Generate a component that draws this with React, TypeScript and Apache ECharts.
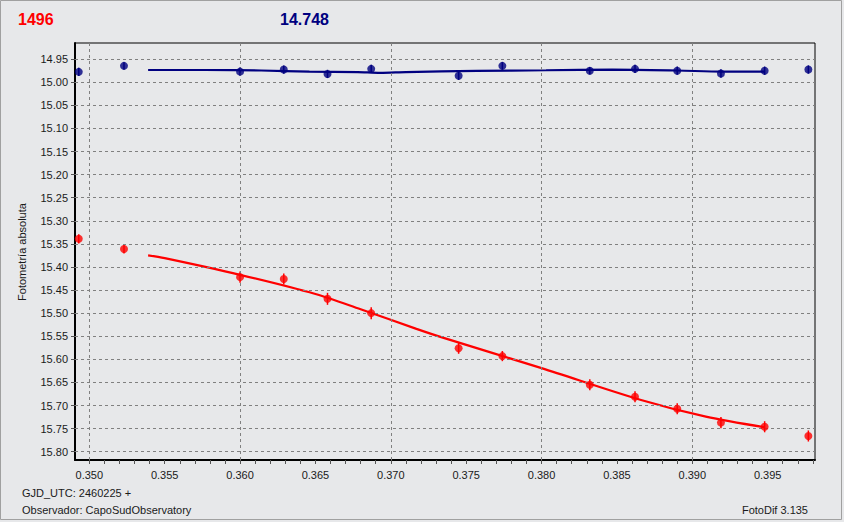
import React, { useEffect, useRef } from "react";
import * as echarts from "echarts";

// ---- data ----
const titleLeft = "1496";
const titleMid = "14.748";
const yAxisName = "Fotometría absoluta";
const footLine1 = "GJD_UTC: 2460225 +";
const footLine2 = "Observador: CapoSudObservatory";
const footRight = "FotoDif 3.135";

const xTicks = [0.35, 0.355, 0.36, 0.365, 0.37, 0.375, 0.38, 0.385, 0.39, 0.395];
const xMinorTicks = [
  0.35, 0.351, 0.352, 0.353, 0.354, 0.355, 0.356, 0.357, 0.358, 0.359,
  0.36, 0.361, 0.362, 0.363, 0.364, 0.365, 0.366, 0.367, 0.368, 0.369,
  0.37, 0.371, 0.372, 0.373, 0.374, 0.375, 0.376, 0.377, 0.378, 0.379,
  0.38, 0.381, 0.382, 0.383, 0.384, 0.385, 0.386, 0.387, 0.388, 0.389,
  0.39, 0.391, 0.392, 0.393, 0.394, 0.395, 0.396, 0.397, 0.398,
];
const yTicks = [
  14.95, 15.0, 15.05, 15.1, 15.15, 15.2, 15.25, 15.3, 15.35, 15.4,
  15.45, 15.5, 15.55, 15.6, 15.65, 15.7, 15.75, 15.8,
];

const pointX = [
  0.3493, 0.3523, 0.36, 0.3629, 0.3658, 0.3687, 0.3745, 0.3774, 0.3832,
  0.3862, 0.389, 0.3919, 0.3948, 0.3977,
];
const blueY = [
  14.9775, 14.9645, 14.977, 14.9725, 14.982, 14.971, 14.986, 14.9645,
  14.975, 14.971, 14.975, 14.981, 14.975, 14.9725,
];
const blueErr = [
  0.009, 0.008, 0.009, 0.009, 0.009, 0.009, 0.009, 0.008, 0.008, 0.009,
  0.009, 0.009, 0.009, 0.009,
];
const redY = [
  15.339, 15.361, 15.422, 15.426, 15.469, 15.5, 15.576, 15.593, 15.655,
  15.681, 15.707, 15.737, 15.746, 15.766,
];
const redErr = [
  0.01, 0.01, 0.012, 0.012, 0.013, 0.013, 0.012, 0.011, 0.012, 0.012,
  0.012, 0.012, 0.012, 0.012,
];

const blueFitX = [0.3539, 0.3577, 0.3614, 0.3646, 0.3678, 0.3693, 0.371, 0.3757, 0.3803, 0.3847, 0.389, 0.392, 0.3948];
const blueFitY = [14.9735, 14.9735, 14.9745, 14.977, 14.978, 14.9797, 14.978, 14.9754, 14.974, 14.9725, 14.9745, 14.977, 14.977];
const redFitX = [0.3539, 0.355, 0.36, 0.365, 0.368, 0.3717, 0.37345, 0.38, 0.3866, 0.3909, 0.3948];
const redFitY = [15.375, 15.381, 15.417, 15.4585, 15.4916, 15.534, 15.553, 15.619, 15.688, 15.724, 15.747];

const X_MIN = 0.34905;
const X_MAX = 0.39814;
const Y_MIN = 14.915;
const Y_MAX = 15.818;

const BLUE = "#000080";
const RED = "#ff0000";
const FONT = "'Liberation Sans', Arial, sans-serif";

function errBars(color: string) {
  return (params: any, api: any) => {
    const x = api.value(0);
    const y = api.value(1);
    const e = api.value(2);
    const p1 = api.coord([x, y - e]);
    const p2 = api.coord([x, y + e]);
    return {
      type: "line",
      shape: { x1: p1[0], y1: p1[1], x2: p2[0], y2: p2[1] },
      style: { stroke: color, lineWidth: 1.5 },
    };
  };
}

export default function App() {
  const ref = useRef<HTMLDivElement>(null);
  useEffect(() => {
    document.body.style.margin = "0";
    const chart = echarts.init(ref.current!, null, { renderer: "svg" });
    const zip = (xs: number[], ys: number[]) => xs.map((x, i) => [x, ys[i]]);
    const zip3 = (xs: number[], ys: number[], es: number[]) =>
      xs.map((x, i) => [x, ys[i], es[i]]);

    chart.setOption({
      animation: false,
      backgroundColor: "#e7e8ea",
      grid: {
        left: 75,
        right: 29,
        top: 43,
        bottom: 62,
        show: true,
        borderColor: "#000",
        borderWidth: 1,
        backgroundColor: "transparent",
      },
      xAxis: {
        type: "value",
        min: X_MIN,
        max: X_MAX,
        splitLine: { show: false },
        axisLine: { show: true, onZero: false, lineStyle: { color: "#000", width: 2 } },
        axisTick: {
          show: true,
          length: 4,
          customValues: xMinorTicks,
          lineStyle: { color: "#555", width: 1 },
        },
        axisLabel: {
          customValues: xTicks,
          formatter: (v: number) => v.toFixed(3),
          color: "#1a1a1a",
          fontFamily: FONT,
          fontSize: 11,
          margin: 9,
          showMinLabel: true,
          showMaxLabel: true,
        },
      },
      yAxis: {
        type: "value",
        inverse: true,
        min: Y_MIN,
        max: Y_MAX,
        splitLine: { show: false },
        axisLine: { show: true, onZero: false, lineStyle: { color: "#000", width: 2 } },
        axisTick: {
          show: true,
          length: 4,
          customValues: yTicks,
          lineStyle: { color: "#555", width: 1 },
        },
        axisLabel: {
          customValues: yTicks,
          formatter: (v: number) => v.toFixed(2),
          color: "#1a1a1a",
          fontFamily: FONT,
          fontSize: 11,
          margin: 7,
        },
      },
      graphic: [
        {
          type: "rect",
          shape: { x: 0.5, y: 0.5, width: 841, height: 519 },
          style: { fill: "none", stroke: "#a0a0a0", lineWidth: 1 },
          silent: true,
        },
        {
          type: "text",
          x: 18,
          y: 19,
          style: {
            text: titleLeft,
            fill: RED,
            font: `bold 16px ${FONT}`,
            textVerticalAlign: "middle",
          },
        },
        {
          type: "text",
          x: 280,
          y: 19,
          style: {
            text: titleMid,
            fill: BLUE,
            font: `bold 16px ${FONT}`,
            textVerticalAlign: "middle",
          },
        },
        {
          type: "text",
          x: 22,
          y: 252,
          rotation: Math.PI / 2,
          style: {
            text: yAxisName,
            fill: "#1a1a1a",
            font: `11px ${FONT}`,
            textAlign: "center",
            textVerticalAlign: "middle",
          },
        },
        {
          type: "text",
          x: 22,
          y: 493,
          style: {
            text: footLine1,
            fill: "#1a1a1a",
            font: `11px ${FONT}`,
            textVerticalAlign: "middle",
          },
        },
        {
          type: "text",
          x: 22,
          y: 510,
          style: {
            text: footLine2,
            fill: "#1a1a1a",
            font: `11px ${FONT}`,
            textVerticalAlign: "middle",
          },
        },
        {
          type: "text",
          x: 808,
          y: 510,
          style: {
            text: footRight,
            fill: "#1a1a1a",
            font: `11px ${FONT}`,
            textAlign: "right",
            textVerticalAlign: "middle",
          },
        },
      ],
      series: [
        {
          type: "scatter",
          data: [],
          z: 1,
          silent: true,
          markLine: {
            silent: true,
            symbol: ["none", "none"],
            label: { show: false },
            animation: false,
            lineStyle: { color: "#808080", width: 1, type: [3, 3] },
            data: [
              ...yTicks.map((v) => ({ yAxis: v })),
              ...xTicks.map((v) => ({ xAxis: v })),
            ],
          },
        },
        {
          type: "line",
          data: zip(blueFitX, blueFitY),
          showSymbol: false,
          smooth: 0.3,
          lineStyle: { color: BLUE, width: 2.2 },
          z: 3,
        },
        {
          type: "line",
          data: zip(redFitX, redFitY),
          showSymbol: false,
          smooth: 0.3,
          lineStyle: { color: RED, width: 2.2 },
          z: 3,
        },
        {
          type: "custom",
          renderItem: errBars(BLUE),
          data: zip3(pointX, blueY, blueErr),
          z: 4,
        },
        {
          type: "custom",
          renderItem: errBars(RED),
          data: zip3(pointX, redY, redErr),
          z: 4,
        },
        {
          type: "scatter",
          data: zip(pointX, blueY),
          symbol: "circle",
          symbolSize: 8,
          itemStyle: { color: BLUE },
          z: 5,
        },
        {
          type: "scatter",
          data: zip(pointX, redY),
          symbol: "circle",
          symbolSize: 8,
          itemStyle: { color: RED },
          z: 5,
        },
      ],
    });
    return () => chart.dispose();
  }, []);
  return <div ref={ref} style={{ width: 844, height: 522 }} />;
}
